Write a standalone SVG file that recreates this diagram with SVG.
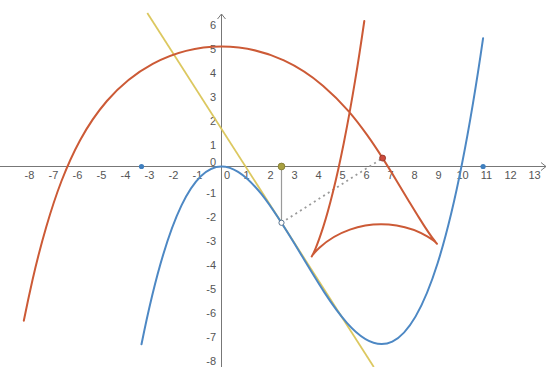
<svg xmlns="http://www.w3.org/2000/svg" width="548" height="367" viewBox="0 0 548 367">
<style>
.lbl{font-family:"Liberation Sans",Arial,sans-serif;font-size:11px;fill:#555}
.xl{text-anchor:middle}
.yl{text-anchor:end}
.axis{stroke:#777;stroke-width:1;fill:none}
.curve{fill:none;stroke-width:2;stroke-linejoin:round;stroke-linecap:round}
</style>
<rect width="548" height="367" fill="#ffffff"/>
<g id="axes">
<path class="axis" d="M0 166.5 H546 M221.5 367 V14"/>
<path class="axis" d="M541 162.5 L546 166.5 L541 170.5 M217.5 19 L221.5 14 L225.5 19"/>
</g>
<g id="x-labels" class="lbl xl">
<text x="29.5" y="179">-8</text><text x="53.5" y="179">-7</text><text x="77.5" y="179">-6</text><text x="101.5" y="179">-5</text><text x="125.5" y="179">-4</text><text x="149.5" y="179">-3</text><text x="173.5" y="179">-2</text><text x="197.5" y="179">-1</text>
<text x="227" y="179">0</text><text x="246.5" y="179">1</text><text x="270.5" y="179">2</text><text x="294.5" y="179">3</text><text x="318.5" y="179">4</text><text x="342.5" y="179">5</text><text x="366.5" y="179">6</text><text x="390.5" y="179">7</text><text x="414.5" y="179">8</text><text x="438.5" y="179">9</text><text x="462.5" y="179">10</text><text x="486.5" y="179">11</text><text x="510.5" y="179">12</text><text x="534.5" y="179">13</text>
</g>
<g id="y-labels" class="lbl yl">
<text x="216" y="28.5">6</text><text x="216" y="52.5">5</text><text x="216" y="76.5">4</text><text x="216" y="100.5">3</text><text x="216" y="124.5">2</text><text x="216" y="148.5">1</text><text x="216" y="166">0</text>
<text x="216" y="196.5">-1</text><text x="216" y="220.5">-2</text><text x="216" y="244.5">-3</text><text x="216" y="268.5">-4</text><text x="216" y="292.5">-5</text><text x="216" y="316.5">-6</text><text x="216" y="340.5">-7</text><text x="216" y="364.5">-8</text>
</g>
<g id="connectors">
<line x1="281.5" y1="166.5" x2="281.5" y2="222.8" stroke="#9a9a9a" stroke-width="1.2"/>
<line x1="281.5" y1="222.8" x2="382.6" y2="158.1" stroke="#9a9a9a" stroke-width="1.8" stroke-dasharray="2,3.5"/>
</g>
<g id="tangent-line">
<line x1="147.3" y1="13" x2="373.8" y2="367" stroke="#dcc860" stroke-width="1.8"/>
</g>
<g id="offset-curve">
<path class="curve" stroke="#cc5a36" d="M23.8 320.7 C26.7 306.4 29.6 292.8 32.5 280 C36.9 260.7 41.5 243.1 46.3 226.7 C51.1 210.3 56 195.3 61.5 181 C67 166.8 72.9 153.4 80.1 140.2 C87.3 127 95.6 114.1 106.9 101 C118.2 88 133 74.5 152.7 63.9 C172.4 53.3 197.5 46.5 221.5 46.5 C245.5 46.5 267.2 52.7 283.9 60.4 C300.6 68.1 313 77.2 323.2 85.9 C333.4 94.6 341.5 103 348.5 111.2 C355.6 119.4 361.6 127.4 367.2 135.2 C372.8 143 377.8 150.6 382.6 158.1 C387.4 165.6 391.8 172.8 396.1 179.9 C400.4 187 404.4 193.8 408.3 200.2 C412.2 206.6 415.9 212.7 419.3 218.1 C422.7 223.6 425.8 228.4 428.5 232.4 C431.2 236.4 433.6 239.6 435.2 241.5 C436.3 242.9 437 243.8 437 243.8 C437 243.8 435 241.1 427.2 236.4 C421.1 232.8 411 227.8 396.7 225.5 C382.4 223.2 364.4 224.5 349.9 229.6 C335.4 234.7 325.1 242.4 319.4 247.7 C313.5 253.3 311.7 256.5 311.7 256.5 C311.7 256.5 313.2 254 315.2 249.3 C317.3 244.4 320 237 323.1 227.4 C326.2 217.8 329.5 205.9 333 191.8 C336.5 177.7 340.1 161.5 343.8 143 C347.5 124.5 351.3 103.7 355.1 80.7 C358.2 62.3 361.2 42.4 364.3 21"/>
</g>
<g id="cubic-curve">
<path class="curve" stroke="#4d88c4" d="M141.5 344.3 C255.4 -225 369.2 826 483.1 38.2"/>
</g>
<g id="points">
<circle id="A" cx="141.5" cy="166.5" r="2.6" fill="#3f7fbf"/>
<circle id="B" cx="483.1" cy="166.5" r="2.6" fill="#3f7fbf"/>
<circle id="C" cx="281.5" cy="166.5" r="3.4" fill="#a8a040" stroke="#7d7630" stroke-width="0.8"/>
<circle id="P" cx="281.5" cy="222.8" r="2.6" fill="#ffffff" stroke="#5a7590" stroke-width="1"/>
<circle id="Q" cx="382.6" cy="158.1" r="3" fill="#cc4a3c" stroke="#8e3327" stroke-width="0.8"/>
</g>
</svg>
